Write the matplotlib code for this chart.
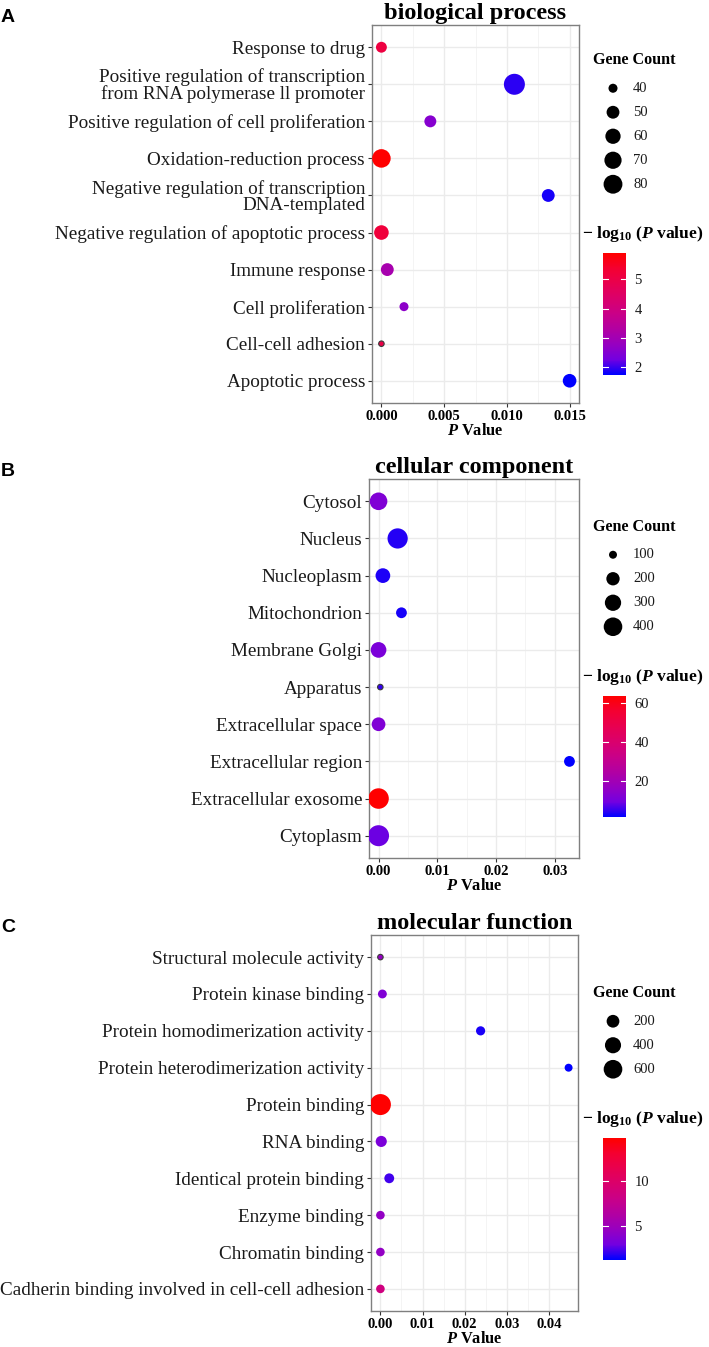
import numpy as np
import matplotlib
matplotlib.use("Agg")
import matplotlib.pyplot as plt
import matplotlib.colors as mcolors
import matplotlib.cm as cm

plt.rcParams['font.family'] = ['Liberation Serif', 'DejaVu Serif']
plt.rcParams['mathtext.fontset'] = 'custom'
plt.rcParams['mathtext.rm'] = 'Liberation Serif'
plt.rcParams['mathtext.it'] = 'Liberation Serif:italic'
plt.rcParams['mathtext.bf'] = 'Liberation Serif:bold'
plt.rcParams['mathtext.bfit'] = 'Liberation Serif:italic:bold'

# ---- A: biological process ----
bp_terms = ["Response to drug",
            "Positive regulation of transcription\nfrom RNA polymerase ll promoter",
            "Positive regulation of cell proliferation",
            "Oxidation-reduction process",
            "Negative regulation of transcription\nDNA-templated",
            "Negative regulation of apoptotic process",
            "Immune response",
            "Cell proliferation",
            "Cell-cell adhesion",
            "Apoptotic process"]
bp_pval = [0.0000, 0.0106, 0.0039, 0.0000, 0.0133, 0.0000, 0.00047, 0.0018, 0.0000, 0.0150]
bp_count = [44, 95, 47, 78, 50, 57, 50, 40, 37, 53]
bp_logp = [5.1, 1.95, 2.55, 5.89, 1.85, 5.2, 3.1, 2.65, 5.0, 1.75]
bp_size_breaks = [40, 50, 60, 70, 80]
bp_color_ticks = [2, 3, 4, 5]
bp_xticks = [0.000, 0.005, 0.010, 0.015]

# ---- B: cellular component ----
cc_terms = ["Cytosol", "Nucleus", "Nucleoplasm", "Mitochondrion", "Membrane Golgi",
            "Apparatus", "Extracellular space", "Extracellular region",
            "Extracellular exosome", "Cytoplasm"]
cc_pval = [0.0000, 0.00325, 0.00074, 0.0039, 0.0000, 0.0003, 0.0000, 0.0325, 0.0000, 0.0000]
cc_count = [355, 482, 243, 140, 277, 89, 212, 140, 498, 525]
cc_logp = [12, 4, 3.5, 3, 11, 5, 12, 1.5, 63.6, 9]
cc_size_breaks = [100, 200, 300, 400]
cc_color_ticks = [20, 40, 60]
cc_xticks = [0.00, 0.01, 0.02, 0.03]

# ---- C: molecular function ----
mf_terms = ["Structural molecule activity", "Protein kinase binding",
            "Protein homodimerization activity", "Protein heterodimerization activity",
            "Protein binding", "RNA binding", "Identical protein binding",
            "Enzyme binding", "Chromatin binding",
            "Cadherin binding involved in cell-cell adhesion"]
mf_pval = [0.0000, 0.00047, 0.0238, 0.0447, 0.0000, 0.0002, 0.0021, 0.0000, 0.0000, 0.0000]
mf_count = [25, 63, 70, 45, 825, 130, 88, 57, 57, 57]
mf_logp = [4.5, 3.5, 1.6, 1.2, 14.7, 3.3, 2.2, 4.4, 4.4, 8.5]
mf_size_breaks = [200, 400, 600]
mf_color_ticks = [5, 10]
mf_xticks = [0.00, 0.01, 0.02, 0.03, 0.04]

# blue -> red gradient (Lab-like, as ggplot)
cmap = mcolors.LinearSegmentedColormap.from_list(
    "bluered", ["#0000FF", "#7300E0", "#9700C0", "#B200A2", "#C90088",
                "#DA006C", "#E80050", "#F40031", "#FF0000"])

W, H = 709, 1347
fig = plt.figure(figsize=(W / 100, H / 100), dpi=100)
ov = fig.add_axes([0, 0, 1, 1])
ov.set_xlim(0, W)
ov.set_ylim(H, 0)
ov.axis('off')


def rect(l, t, r, b):
    return [l / W, 1 - b / H, (r - l) / W, (b - t) / H]


def dot_px(c, cmin, cmax):
    return 5.5 + 15.5 * np.sqrt((np.asarray(c, float) - cmin) / (cmax - cmin))


def panel(box, terms, pval, count, logp, title, letter, size_breaks,
          color_ticks, xticks, fmt):
    l, t, r, b = box
    ax = fig.add_axes(rect(l, t, r, b))
    n = len(terms)
    y = np.arange(n)
    cmin, cmax = min(count), max(count)
    norm = mcolors.Normalize(min(logp), max(logp))
    d = dot_px(count, cmin, cmax)
    edge = ['#3a3a3a' if c == cmin else 'none' for c in count]
    ax.scatter(pval, y, s=(d * 0.72) ** 2, c=logp, cmap=cmap, norm=norm,
               edgecolors=edge, linewidths=0.8, zorder=3)
    span = max(pval) - min(pval)
    ax.set_xlim(min(pval) - 0.05 * span, max(pval) + 0.05 * span)
    ax.set_ylim(n - 0.4, -0.6)
    ax.set_yticks(y)
    ax.set_yticklabels(terms, fontsize=13.8, color='#1a1a1a', linespacing=0.95)
    ax.set_xticks(xticks)
    ax.set_xticklabels([fmt % v for v in xticks], fontsize=10.5, fontweight='bold')
    step = xticks[1] - xticks[0]
    ax.set_xticks(np.array(xticks[:-1]) + step / 2, minor=True)
    ax.tick_params(which='minor', length=0)
    ax.tick_params(which='major', length=3, color='#333333', pad=2)
    ax.grid(True, which='major', color='#EBEBEB', lw=1.0, zorder=0)
    ax.grid(True, which='minor', axis='x', color='#F2F2F2', lw=0.6, zorder=0)
    ax.set_axisbelow(True)
    for sp in ax.spines.values():
        sp.set_color('#7f7f7f')
        sp.set_linewidth(1.0)
    ax.set_xlabel(r'$\mathbfit{P}$ Value', fontsize=11.8, fontweight='bold', labelpad=0)
    ax.set_title(title, fontsize=17.5, fontweight='bold', pad=4)
    ov.text(1, t - 7, letter, fontsize=14, fontweight='bold',
            family=['Liberation Sans', 'DejaVu Sans'], ha='left', va='center')

    # size legend
    nb = len(size_breaks)
    height = 327.5 - 24 * (5 - nb)
    top = (t + b) / 2 - height / 2
    ov.text(593, top + 10, 'Gene Count', fontsize=11.6, fontweight='bold',
            ha='left', va='center')
    ky = top + 38 + 24 * np.arange(nb)
    kd = dot_px(size_breaks, cmin, cmax)
    ov.scatter([613] * nb, ky, s=(kd * 0.72) ** 2, color='black', edgecolors='none')
    for yy, v in zip(ky, size_breaks):
        ov.text(633, yy, str(v), fontsize=10.5, color='#1a1a1a', ha='left', va='center')

    # colour bar
    ct = ky[-1] + 50
    ov.text(582, ct, r'$\mathbf{-\ log_{10}\ (}\mathbfit{P}\mathbf{\ value)}$',
            fontsize=12.6, ha='left', va='center')
    cax = fig.add_axes(rect(603, ct + 19, 626, ct + 19 + 121.5))
    cb = fig.colorbar(cm.ScalarMappable(norm=norm, cmap=cmap), cax=cax)
    cb.outline.set_visible(False)
    cb.set_ticks(color_ticks)
    cax.tick_params(length=0, labelsize=10.5, labelcolor='#1a1a1a', pad=6)
    for tk in color_ticks:
        cax.axhline(tk, 0, 0.2, color='white', lw=0.8)
        cax.axhline(tk, 0.8, 1, color='white', lw=0.8)
    return ax


panel((372, 25, 579, 403), bp_terms, bp_pval, bp_count, bp_logp,
      'biological process', 'A', bp_size_breaks, bp_color_ticks, bp_xticks, '%.3f')
panel((369, 479, 579, 858), cc_terms, cc_pval, cc_count, cc_logp,
      'cellular component', 'B', cc_size_breaks, cc_color_ticks, cc_xticks, '%.2f')
panel((371, 935, 578, 1311), mf_terms, mf_pval, mf_count, mf_logp,
      'molecular function', 'C', mf_size_breaks, mf_color_ticks, mf_xticks, '%.2f')

fig.savefig('out.png', dpi=100)
